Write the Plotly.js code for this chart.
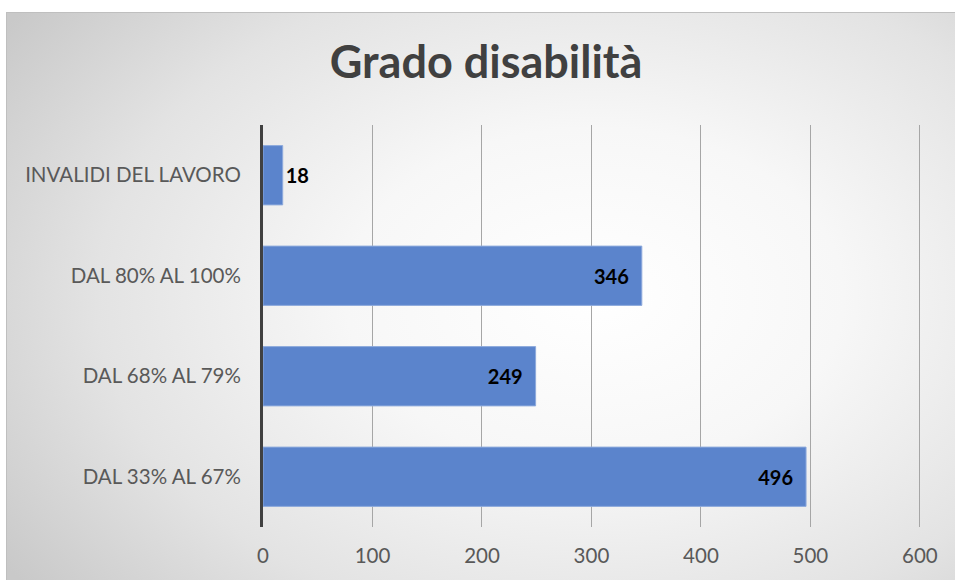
<!DOCTYPE html>
<html>
<head>
<meta charset="utf-8">
<script src="https://cdn.plot.ly/plotly-3.0.1.min.js"></script>
<style>
  html, body { margin: 0; padding: 0; background: #ffffff; }
  #wrap { position: absolute; left: 0; top: 0; width: 955px; height: 580px; }
  #frame { position: absolute; left: 6px; top: 12px; width: 949px; height: 568px;
           box-sizing: border-box; border-left: 1px solid #bfbfbf; border-top: 1px solid #bfbfbf;
           background: radial-gradient(ellipse 75% 85% at 62% 50%, #ffffff 0%, #f7f7f7 35%, #e3e3e3 70%, #c9c9c9 100%); }
  #chart { position: absolute; left: 0; top: 0; width: 955px; height: 580px; }
</style>
</head>
<body>
<div id="wrap">
  <div id="frame"></div>
  <div id="chart"></div>
</div>
<script>
const categories = ["DAL 33% AL 67%", "DAL 68% AL 79%", "DAL 80% AL 100%", "INVALIDI DEL LAVORO"];
const values = [496, 249, 346, 18];
const xTicks = [0, 100, 200, 300, 400, 500, 600];
const chartTitle = "Grado disabilità";

const trace = {
  type: "bar",
  orientation: "h",
  y: categories,
  x: values,
  text: values.map(v => String(v) + "\u2002"),
  textposition: "auto",
  insidetextanchor: "end",
  constraintext: "none",
  cliponaxis: false,
  textfont: { family: "Lato, 'Noto Sans', sans-serif", size: 20, color: "#000000", weight: "bold" },
  marker: { color: "#5b84cc", line: { color: "#8eaadc", width: 1 } },
  hoverinfo: "none"
};

const layout = {
  width: 955,
  height: 580,
  paper_bgcolor: "rgba(0,0,0,0)",
  plot_bgcolor: "rgba(0,0,0,0)",
  margin: { l: 263, r: 34, t: 125, b: 53, pad: 0 },
  bargap: 0.41,
  showlegend: false,
  title: {
    text: "<b>" + chartTitle + "</b>",
    font: { family: "Lato, 'Noto Sans', sans-serif", size: 45, color: "#404040" },
    x: 0.509, xanchor: "center",
    y: 0.893, yanchor: "middle"
  },
  xaxis: {
    range: [0, 601],
    tickvals: xTicks,
    ticktext: xTicks.map(String),
    showgrid: true,
    gridcolor: "#a6a6a6",
    gridwidth: 1,
    zeroline: false,
    showline: false,
    ticks: "",
    ticklabelstandoff: 14,
    tickfont: { family: "Lato, 'Noto Sans', sans-serif", size: 20.5, color: "#595959" },
    fixedrange: true
  },
  yaxis: {
    type: "category",
    categoryorder: "array",
    categoryarray: categories,
    showgrid: false,
    zeroline: false,
    showline: true,
    linecolor: "#404040",
    linewidth: 3,
    ticks: "",
    ticklabelstandoff: 15,
    tickfont: { family: "Lato, 'Noto Sans', sans-serif", size: 20.5, color: "#595959" },
    fixedrange: true
  }
};

Plotly.newPlot("chart", [trace], layout, { displayModeBar: false, staticPlot: true });
</script>
</body>
</html>
